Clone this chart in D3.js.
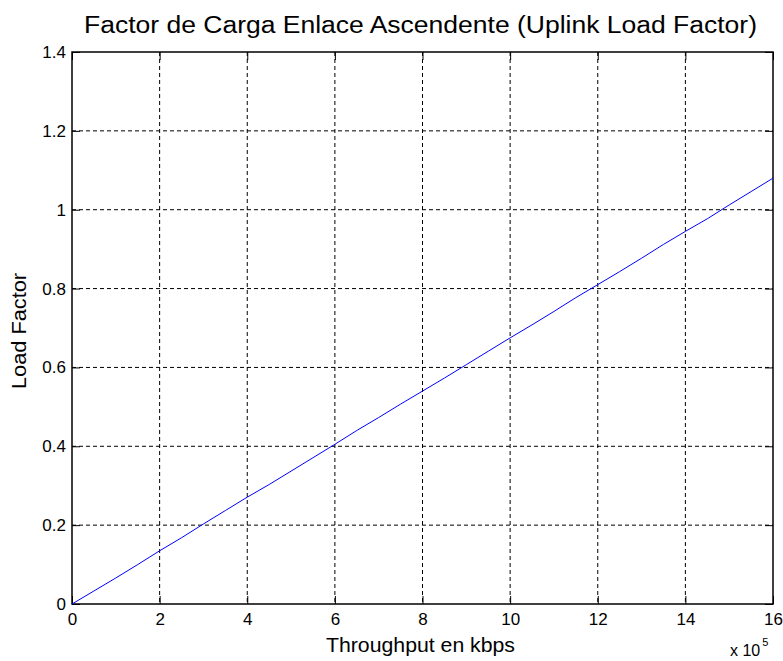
<!DOCTYPE html>
<html>
<head>
<meta charset="utf-8">
<script src="https://cdn.jsdelivr.net/npm/d3@7"></script>
<style>
  html, body { margin: 0; padding: 0; background: #fff; }
  svg { display: block; font-family: "Liberation Sans", Arial, sans-serif; }
</style>
</head>
<body>
<svg id="chart" width="783" height="661"></svg>
<script>
// Throughput (units of 1e5 kbps) and uplink load factor
const throughput = [0, 0.5, 1, 1.5, 2, 2.5, 3, 3.5, 4, 4.5, 5, 5.5, 6, 6.5, 7, 7.5, 8,
  8.5, 9, 9.5, 10, 10.5, 11, 11.5, 12, 12.5, 13, 13.5, 14, 14.5, 15, 15.5, 16];
const loadFactor = [0, 0.033, 0.066, 0.1, 0.135, 0.168, 0.203, 0.237, 0.271, 0.303, 0.337,
  0.371, 0.405, 0.44, 0.473, 0.507, 0.54, 0.573, 0.607, 0.641, 0.675, 0.708, 0.742,
  0.777, 0.81, 0.843, 0.877, 0.912, 0.945, 0.977, 1.012, 1.046, 1.08];
const xTicks = [0, 2, 4, 6, 8, 10, 12, 14, 16];
const yTicks = [0, 0.2, 0.4, 0.6, 0.8, 1, 1.2, 1.4];

const svg = d3.select("#chart");
const plotL = 72, plotR = 773, plotT = 52, plotB = 604;

const x = d3.scaleLinear().domain([0, 16]).range([plotL, plotR]);
const y = d3.scaleLinear().domain([0, 1.4]).range([plotB, plotT]);

// dashed grid
const grid = svg.append("g").attr("stroke", "#000").attr("stroke-width", 1)
  .attr("stroke-dasharray", "4,3").attr("fill", "none");
xTicks.slice(1, -1).forEach(t => {
  grid.append("line").attr("x1", x(t)).attr("x2", x(t)).attr("y1", plotT).attr("y2", plotB);
});
yTicks.slice(1, -1).forEach(t => {
  grid.append("line").attr("x1", plotL).attr("x2", plotR).attr("y1", y(t)).attr("y2", y(t));
});

// axes with inward ticks on all four sides
const fmt = d => d3.format("~g")(d);
const tickLen = 8;
const axB = svg.append("g").attr("transform", `translate(0,${plotB})`)
  .call(d3.axisBottom(x).tickValues(xTicks).tickFormat(fmt).tickSizeInner(-tickLen).tickSizeOuter(0).tickPadding(9));
const axT = svg.append("g").attr("transform", `translate(0,${plotT})`)
  .call(d3.axisTop(x).tickValues(xTicks).tickFormat("").tickSizeInner(-tickLen).tickSizeOuter(0));
const axL = svg.append("g").attr("transform", `translate(${plotL},0)`)
  .call(d3.axisLeft(y).tickValues(yTicks).tickFormat(fmt).tickSizeInner(-tickLen).tickSizeOuter(0).tickPadding(6));
const axR = svg.append("g").attr("transform", `translate(${plotR},0)`)
  .call(d3.axisRight(y).tickValues(yTicks).tickFormat("").tickSizeInner(-tickLen).tickSizeOuter(0));
[axB, axT, axL, axR].forEach(g => {
  g.selectAll("path.domain").remove();
  g.selectAll("line").attr("stroke", "#000").attr("stroke-width", 1);
  g.selectAll("text").attr("fill", "#000").style("font-size", "17px")
    .style("font-family", "'Liberation Sans', Arial, sans-serif");
});

// box
svg.append("rect").attr("x", plotL).attr("y", plotT).attr("width", plotR - plotL).attr("height", plotB - plotT)
  .attr("fill", "none").attr("stroke", "#000").attr("stroke-width", 1.5);

// data line
const line = d3.line().x((d, i) => x(throughput[i])).y(d => y(d));
svg.append("path").datum(loadFactor).attr("d", line)
  .attr("fill", "none").attr("stroke", "#0000ff").attr("stroke-width", 1);

// texts
svg.append("text").attr("x", 84).attr("y", 33)
  .attr("textLength", 673).attr("lengthAdjust", "spacingAndGlyphs")
  .style("font-size", "23px").attr("fill", "#000")
  .text("Factor de Carga Enlace Ascendente (Uplink Load Factor)");
svg.append("text").attr("x", 326).attr("y", 652)
  .attr("textLength", 189).attr("lengthAdjust", "spacingAndGlyphs")
  .style("font-size", "20px").attr("fill", "#000").text("Throughput en kbps");
svg.append("text").attr("transform", `translate(26,331) rotate(-90)`)
  .attr("text-anchor", "middle").attr("textLength", 116).attr("lengthAdjust", "spacingAndGlyphs")
  .style("font-size", "20px").attr("fill", "#000").text("Load Factor");
const mult = svg.append("text").attr("x", 730).attr("y", 656).style("font-size", "16px").attr("fill", "#000");
mult.append("tspan").text("x 10");
mult.append("tspan").attr("dy", -10).attr("dx", 2).style("font-size", "11px").text("5");
</script>
</body>
</html>
